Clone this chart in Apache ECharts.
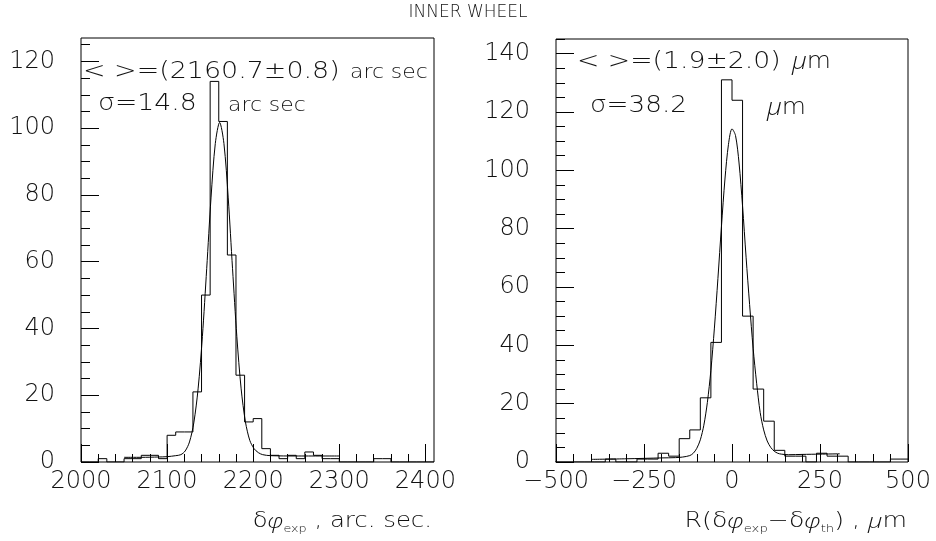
<!DOCTYPE html>
<html>
<head>
<meta charset="utf-8">
<script src="https://cdn.jsdelivr.net/npm/echarts@6/dist/echarts.min.js"></script>
<style>
html,body{margin:0;padding:0;background:#fff;}
#chart{width:936px;height:541px;}
</style>
</head>
<body>
<div id="chart"></div>
<script>
// ---- data ----
const leftBinStart = 2000;
const leftBinWidth = 10;
const leftCounts = [0, 0, 1, 0, 0, 1, 1, 2, 2, 1, 8, 9, 9, 21, 50, 114, 102, 62, 26, 12, 13, 4, 2, 1, 2, 1, 3, 2, 1, 1, 0, 0, 0, 0, 1, 1, 0, 0, 0, 0, 0];

const rightBinStart = -510;
const rightBinWidth = 30;
const rightCounts = [0, 0, 0, 0, 0, 1, 0, 0, 1, 1, 3, 2, 8, 11, 22, 41, 131, 124, 50, 25, 14, 4, 2, 2, 0, 3, 2, 2, 0, 0, 0, 0, 1, 1];

const leftFitX = [2050, 2070, 2090, 2100, 2110, 2116, 2121, 2126, 2131, 2136, 2141, 2146, 2151, 2156, 2161, 2166, 2171, 2176, 2181, 2186, 2191, 2196, 2201, 2206, 2211, 2220, 2250, 2300];
const leftFitY = [1.4, 1.4, 1.5, 1.6, 1.9, 2.2, 3.3, 6.0, 11.7, 21.9, 37.6, 57.9, 79.1, 95.4, 101.7, 95.4, 79.1, 57.9, 37.6, 21.9, 12.0, 6.5, 4.0, 2.8, 2.2, 1.9, 1.8, 1.8];

const rightFitX = [-400, -300, -200, -160, -140, -120, -110, -100, -90, -80, -70, -60, -50, -40, -30, -20, -10, 0, 10, 20, 30, 40, 50, 60, 70, 80, 90, 100, 110, 120, 130, 140, 160, 200, 250, 306];
const rightFitY = [0.9, 1.1, 1.4, 1.5, 1.7, 2.2, 3.0, 4.7, 7.6, 12.6, 20.4, 31.4, 45.9, 62.9, 80.7, 97.0, 108.9, 114.2, 111.9, 102.5, 87.7, 70.2, 54.0, 39.0, 27.0, 17.0, 11.0, 7.2, 5.0, 3.7, 3.0, 2.7, 2.5, 2.6, 2.7, 2.8];

const leftXTicks = [2000, 2100, 2200, 2300, 2400];
const leftYTicks = [0, 20, 40, 60, 80, 100, 120];
const rightXTicks = [-500, -250, 0, 250, 500];
const rightYTicks = [0, 20, 40, 60, 80, 100, 120, 140];

// ---- helpers ----
function histPoints(start, width, counts) {
  const pts = counts.map((c, i) => [start + i * width, c]);
  pts.push([start + counts.length * width, counts[counts.length - 1]]);
  return pts;
}
function zip(xs, ys) { return xs.map((x, i) => [x, ys[i]]); }
function range(a, b, step) { const r = []; for (let v = a; v <= b + 1e-9; v += step) r.push(v); return r; }

const FONT = "'DejaVu Sans', sans-serif";
const IFONT = "'Open Sans', 'Noto Sans', sans-serif";
const WEIGHT = 200;
const INK = '#111';

function majorX(grid, min, max, ticks) {
  return {
    gridIndex: grid, type: 'value', min: min, max: max, position: 'bottom',
    axisLine: { show: false, onZero: false }, splitLine: { show: false },
    axisTick: { show: true, inside: true, length: 18, customValues: ticks, lineStyle: { color: '#000', width: 1 } },
    axisLabel: { show: true, customValues: ticks, margin: 8, fontSize: 24, fontWeight: WEIGHT, fontFamily: FONT, color: INK,
      showMinLabel: true, showMaxLabel: true,
      formatter: v => String(v).replace('-', '\u2212') }
  };
}
function minorX(grid, min, max, ticks) {
  return {
    gridIndex: grid, type: 'value', min: min, max: max, position: 'bottom',
    axisLine: { show: false, onZero: false }, splitLine: { show: false },
    axisTick: { show: true, inside: true, length: 8, customValues: ticks, lineStyle: { color: '#000', width: 1 } },
    axisLabel: { show: false }
  };
}
function majorY(grid, max, ticks) {
  return {
    gridIndex: grid, type: 'value', min: 0, max: max, position: 'left',
    axisLine: { show: false, onZero: false }, splitLine: { show: false },
    axisTick: { show: true, inside: true, length: 18, customValues: ticks, lineStyle: { color: '#000', width: 1 } },
    axisLabel: { show: true, customValues: ticks, margin: 26, fontSize: 24, fontWeight: WEIGHT, fontFamily: FONT, color: INK,
      showMinLabel: true, showMaxLabel: true }
  };
}
function minorY(grid, max, ticks) {
  return {
    gridIndex: grid, type: 'value', min: 0, max: max, position: 'left',
    axisLine: { show: false, onZero: false }, splitLine: { show: false },
    axisTick: { show: true, inside: true, length: 9, customValues: ticks, lineStyle: { color: '#000', width: 1 } },
    axisLabel: { show: false }
  };
}

const lineStyle = { color: '#000', width: 1 };

function label(x, y, text, size, sx, extra) {
  return {
    type: 'text', x: x, y: y, scaleX: sx || 1,
    style: Object.assign({ text: text, fontSize: size, fontWeight: WEIGHT, fontFamily: FONT, fill: INK, align: 'left', verticalAlign: 'middle' }, extra || {})
  };
}

const subRich = {
  i: { fontStyle: 'italic', fontSize: 21, fontWeight: 300, fontFamily: IFONT, lineHeight: 26, color: '#333' },
  sub: { fontSize: 11, fontWeight: WEIGHT, fontFamily: FONT, verticalAlign: 'bottom', lineHeight: 14 }
};
const muRich = {
  i: { fontStyle: 'italic', fontSize: 24, fontWeight: 300, fontFamily: IFONT, lineHeight: 28, color: '#333' },
  b: { fontSize: 23, fontWeight: WEIGHT, fontFamily: FONT, lineHeight: 28 }
};

const option = {
  animation: false,
  backgroundColor: '#fff',
  grid: [
    { left: 81, top: 38, width: 353, height: 424, show: true, borderColor: '#000', borderWidth: 1, backgroundColor: 'transparent' },
    { left: 556, top: 39, width: 352, height: 423, show: true, borderColor: '#000', borderWidth: 1, backgroundColor: 'transparent' }
  ],
  xAxis: [
    majorX(0, 2000, 2410, leftXTicks),
    minorX(0, 2000, 2410, range(2000, 2400, 20)),
    majorX(1, -500, 500, rightXTicks),
    minorX(1, -500, 500, range(-500, 500, 50))
  ],
  yAxis: [
    majorY(0, 127, leftYTicks),
    minorY(0, 127, range(0, 125, 5)),
    majorY(1, 145, rightYTicks),
    minorY(1, 145, range(0, 145, 5))
  ],
  series: [
    { type: 'line', xAxisIndex: 0, yAxisIndex: 0, step: 'end', symbol: 'none', lineStyle: lineStyle,
      data: histPoints(leftBinStart, leftBinWidth, leftCounts) },
    { type: 'line', xAxisIndex: 0, yAxisIndex: 0, smooth: 0.3, symbol: 'none', lineStyle: lineStyle,
      data: zip(leftFitX, leftFitY) },
    { type: 'line', xAxisIndex: 2, yAxisIndex: 2, step: 'end', symbol: 'none', lineStyle: lineStyle,
      data: histPoints(rightBinStart, rightBinWidth, rightCounts) },
    { type: 'line', xAxisIndex: 2, yAxisIndex: 2, smooth: 0.3, symbol: 'none', lineStyle: lineStyle,
      data: zip(rightFitX, rightFitY) }
  ],
  graphic: [
    label(468, 13, 'INNER WHEEL', 17, 1, { align: 'center' }),
    // left statistics
    label(83, 72, '< >=(2160.7\u00b10.8)', 23, 1.17),
    label(350, 73, 'arc sec', 19, 1.15),
    label(98, 104, '\u03c3=14.8', 23, 1.16),
    label(228, 106, 'arc sec', 19, 1.15),
    // right statistics
    label(577, 62, '< >=(1.9\u00b12.0)', 23, 1.16),
    label(792, 62, '{i|\u03bc}{b|m}', 23, 1.08, { rich: muRich }),
    label(590, 106, '\u03c3=38.2', 23, 1.14),
    label(767, 108, '{i|\u03bc}{b|m}', 23, 1.08, { rich: muRich }),
    // axis titles
    label(432, 522, '\u03b4{i|\u03c6}{sub|exp} , arc. sec.', 21, 1.16, { align: 'right', lineHeight: 26, rich: subRich }),
    label(907, 522, 'R(\u03b4{i|\u03c6}{sub|exp}\u2212\u03b4{i|\u03c6}{sub|th}) , {i|\u03bc}m', 21, 1.2, { align: 'right', lineHeight: 26, rich: subRich })
  ]
};

const chart = echarts.init(document.getElementById('chart'), null, { renderer: 'canvas' });
chart.setOption(option);
</script>
</body>
</html>
